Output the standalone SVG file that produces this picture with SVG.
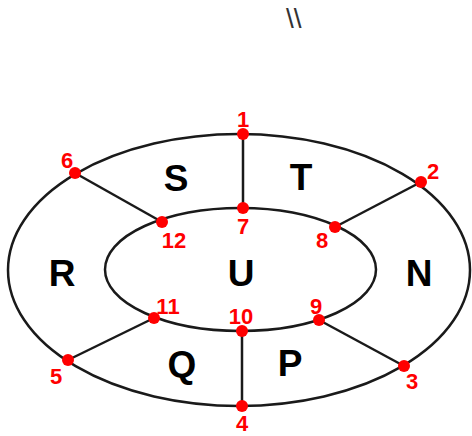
<svg xmlns="http://www.w3.org/2000/svg" width="472" height="436" viewBox="0 0 472 436">
<style>
.ring{fill:none;stroke:#1a1a1a;stroke-width:2.5}
.edge{stroke:#1a1a1a;stroke-width:2.5}
.dot{fill:#ff0000}
.num{font-family:"Liberation Sans",Arial,sans-serif;font-weight:bold;font-size:22px;fill:#ff0000;text-anchor:middle}
.reg{font-family:"Liberation Sans",Arial,sans-serif;font-weight:bold;font-size:37px;fill:#000;text-anchor:middle}
</style>
<rect width="472" height="436" fill="#fff"/>
<text x="286" y="28" font-family="Liberation Sans,Arial,sans-serif" font-size="28" fill="#333">\\</text>
<g id="rings">
<ellipse class="ring" cx="239" cy="270" rx="231" ry="136"/>
<ellipse class="ring" cx="240.5" cy="269.5" rx="135.5" ry="61.5"/>
</g>
<g id="connectors">
<line class="edge" x1="243" y1="134" x2="243" y2="208"/>
<line class="edge" x1="421" y1="182" x2="335" y2="227"/>
<line class="edge" x1="75" y1="173" x2="162" y2="222"/>
<line class="edge" x1="68" y1="360" x2="154" y2="318"/>
<line class="edge" x1="404" y1="366" x2="319" y2="320"/>
<line class="edge" x1="242" y1="406" x2="242" y2="331"/>
</g>
<g id="regions">
<text class="reg" x="176" y="191">S</text>
<text class="reg" x="301" y="190">T</text>
<text class="reg" x="62" y="286">R</text>
<text class="reg" x="241" y="286">U</text>
<text class="reg" x="419" y="286">N</text>
<text class="reg" x="182" y="377">Q</text>
<text class="reg" x="290" y="376">P</text>
</g>
<g id="n1"><circle class="dot" cx="243" cy="134" r="6"/><text class="num" x="243" y="127">1</text></g>
<g id="n2"><circle class="dot" cx="421" cy="182" r="6"/><text class="num" x="433" y="179">2</text></g>
<g id="n3"><circle class="dot" cx="404" cy="366" r="6"/><text class="num" x="412" y="389">3</text></g>
<g id="n4"><circle class="dot" cx="242" cy="406" r="6"/><text class="num" x="242" y="431">4</text></g>
<g id="n5"><circle class="dot" cx="68" cy="360" r="6"/><text class="num" x="56" y="384">5</text></g>
<g id="n6"><circle class="dot" cx="75" cy="173" r="6"/><text class="num" x="67" y="168">6</text></g>
<g id="n7"><circle class="dot" cx="243" cy="208" r="6"/><text class="num" x="243" y="234">7</text></g>
<g id="n8"><circle class="dot" cx="335" cy="227" r="6"/><text class="num" x="322" y="248">8</text></g>
<g id="n9"><circle class="dot" cx="319" cy="320" r="6"/><text class="num" x="316" y="314">9</text></g>
<g id="n10"><circle class="dot" cx="242" cy="331" r="6"/><text class="num" x="241" y="324">10</text></g>
<g id="n11"><circle class="dot" cx="154" cy="318" r="6"/><text class="num" x="168" y="314">11</text></g>
<g id="n12"><circle class="dot" cx="162" cy="222" r="6"/><text class="num" x="174" y="248">12</text></g>
</svg>
